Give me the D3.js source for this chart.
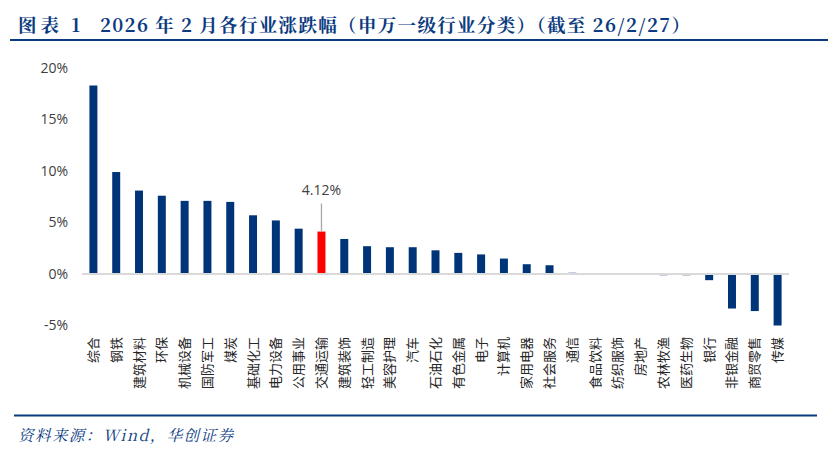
<!DOCTYPE html>
<html>
<head>
<meta charset="utf-8">
<script src="https://cdn.jsdelivr.net/npm/d3@7"></script>
<style>
  body { margin: 0; background: #fff; }
  svg { display: block; }
</style>
</head>
<body>
<div id="chart"></div>
<script>
// 申万一级行业 2026年2月涨跌幅（%）
const industries = ['综合','钢铁','建筑材料','环保','机械设备','国防军工','煤炭','基础化工','电力设备','公用事业',
  '交通运输','建筑装饰','轻工制造','美容护理','汽车','石油石化','有色金属','电子','计算机','家用电器',
  '社会服务','通信','食品饮料','纺织服饰','房地产','农林牧渔','医药生物','银行','非银金融','商贸零售','传媒'];
const changes = [18.3, 9.9, 8.1, 7.6, 7.1, 7.1, 7.0, 5.7, 5.2, 4.4,
  4.12, 3.4, 2.7, 2.6, 2.6, 2.3, 2.05, 1.9, 1.5, 0.95,
  0.85, 0.12, 0.02, -0.02, -0.03, -0.12, -0.12, -0.6, -3.35, -3.6, -5.0];
const yTicks = [-5, 0, 5, 10, 15, 20];
const highlight = '交通运输';

const W = 840, H = 453;
const blue = '#003478', navy = '#0b3b7f';
const serif = '"Noto Serif CJK SC", "Liberation Serif", "DejaVu Serif", serif';

const svg = d3.select('#chart').append('svg')
  .attr('width', W).attr('height', H);

// title (two parts, wide gap between them)
svg.append('text')
  .attr('x', 18).attr('y', 32)
  .attr('font-family', serif)
  .attr('font-weight', 'bold')
  .attr('font-size', 18.5)
  .attr('fill', navy)
  .attr('textLength', 62)
  .attr('lengthAdjust', 'spacing')
  .text('图表 1');
svg.append('text')
  .attr('x', 100).attr('y', 32)
  .attr('font-family', serif)
  .attr('font-weight', 'bold')
  .attr('font-size', 18.5)
  .attr('fill', navy)
  .attr('textLength', 590)
  .attr('lengthAdjust', 'spacing')
  .text('2026 年 2 月各行业涨跌幅（申万一级行业分类）（截至 26/2/27）');

svg.append('line')
  .attr('x1', 10).attr('x2', 828).attr('y1', 40).attr('y2', 40)
  .attr('stroke', navy).attr('stroke-width', 2);

const x = d3.scaleBand()
  .domain(industries)
  .range([82, 789])
  .paddingInner(0.65)
  .paddingOuter(0.325);

const y = d3.scaleLinear()
  .domain([-5, 20])
  .range([325.5, 68]);

// y axis labels only
const yAxis = svg.append('g')
  .attr('transform', 'translate(70,0)')
  .call(d3.axisLeft(y).tickValues(yTicks).tickSize(0).tickPadding(2).tickFormat(d => d + '%'));
yAxis.select('.domain').remove();
yAxis.selectAll('text')
  .attr('font-family', '"Open Sans", "Noto Sans", sans-serif')
  .attr('font-size', 14)
  .attr('fill', '#404040');

// bars
svg.selectAll('.bar')
  .data(industries)
  .enter().append('rect')
  .attr('class', 'bar')
  .attr('x', d => x(d))
  .attr('width', x.bandwidth())
  .attr('y', (d, i) => y(Math.max(0, changes[i])))
  .attr('height', (d, i) => Math.abs(y(changes[i]) - y(0)))
  .attr('fill', d => d === highlight ? '#ff0000' : blue);

// zero line
svg.append('line')
  .attr('x1', 82).attr('x2', 789)
  .attr('y1', y(0)).attr('y2', y(0))
  .attr('stroke', '#d9d9d9').attr('stroke-width', 2);

// callout for highlighted bar
const hi = industries.indexOf(highlight);
const hx = x(highlight) + x.bandwidth() / 2;
svg.append('line')
  .attr('x1', hx).attr('x2', hx)
  .attr('y1', y(changes[hi])).attr('y2', y(changes[hi]) - 28)
  .attr('stroke', '#a6a6a6').attr('stroke-width', 1.3);
svg.append('text')
  .attr('x', hx).attr('y', y(changes[hi]) - 37)
  .attr('text-anchor', 'middle')
  .attr('font-family', '"Open Sans", "Noto Sans", sans-serif')
  .attr('font-size', 14)
  .attr('fill', '#404040')
  .text(changes[hi].toFixed(2) + '%');

// category labels, rotated
svg.selectAll('.cat')
  .data(industries)
  .enter().append('text')
  .attr('class', 'cat')
  .attr('transform', d => 'translate(' + (x(d) + x.bandwidth() / 2 + 4.5) + ',337) rotate(-90)')
  .attr('text-anchor', 'end')
  .attr('font-family', '"Noto Sans CJK SC", sans-serif')
  .attr('font-size', 13)
  .attr('fill', '#262626')
  .text(d => d);

// footer
svg.append('line')
  .attr('x1', 14).attr('x2', 817).attr('y1', 415.5).attr('y2', 415.5)
  .attr('stroke', navy).attr('stroke-width', 2);

svg.append('text')
  .attr('x', 18).attr('y', 441)
  .attr('font-family', serif)
  .attr('font-style', 'italic')
  .attr('font-size', 15.5)
  .attr('fill', navy)
  .attr('textLength', 215)
  .attr('lengthAdjust', 'spacing')
  .text('资料来源：Wind，华创证券');
</script>
</body>
</html>
